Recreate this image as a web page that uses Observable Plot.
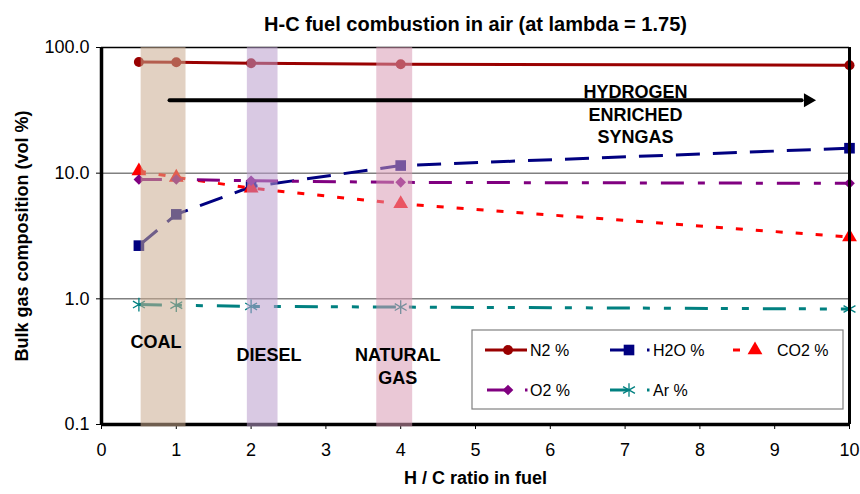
<!DOCTYPE html>
<html><head><meta charset="utf-8">
<script src="https://cdn.jsdelivr.net/npm/d3@7"></script>
<script src="https://cdn.jsdelivr.net/npm/@observablehq/plot@0.6"></script>
<style>body{margin:0;background:#fff;}</style>
</head><body><div id="chart"></div>
<script>
// ---- data ----
const hcRatio = [0.5, 1, 2, 4, 10];
const n2  = [76.7, 76.2, 75.0, 73.5, 72.3];
const h2o = [2.65, 4.7, 7.8, 11.5, 15.8];
const co2 = [10.4, 9.25, 7.6, 5.7, 3.1];
const o2  = [8.9, 8.9, 8.7, 8.45, 8.3];
const ar  = [0.9, 0.89, 0.87, 0.86, 0.83];
const seriesNames = ["N2 %", "H2O %", "CO2 %", "O2 %", "Ar %"];
const yTicks = [0.1, 1, 10, 100];
const xTicks = [0, 1, 2, 3, 4, 5, 6, 7, 8, 9, 10];
const bandNames = ["COAL", "DIESEL", "NATURAL GAS"];
const bandStart = [0.53, 1.95, 3.68];
const bandEnd = [1.13, 2.36, 4.16];
const labelText = ["COAL", "DIESEL", "NATURAL", "GAS"];
const labelX = [0.73, 2.24, 3.96, 3.96];
const labelY = [0.448, 0.359, 0.359, 0.235];
const arrowX = [0.91, 9.36];
const arrowY = [38, 38];
const arrowTipX = [9.445];
const arrowText = "HYDROGEN\nENRICHED\nSYNGAS";
const arrowTextX = 7.14;
const arrowTextY = 29.9;
const titleText = "H-C fuel combustion in air (at lambda = 1.75)";
const xLabel = "H / C ratio in fuel";
const yLabel = "Bulk gas composition (vol %)";

// ---- styles ----
const seriesValues = [n2, h2o, co2, o2, ar];
const styles = [
  {color: "#990000", dash: null,            symbol: "circle",   r: 5,   filled: true},
  {color: "#000080", dash: "24,13",         symbol: "square",   r: 6,   filled: true},
  {color: "#ff0000", dash: "7,13",          symbol: "triangle", r: 5.5, filled: true},
  {color: "#800080", dash: "23,14,7,14",    symbol: "diamond2", r: 4.8, filled: true},
  {color: "#008080", dash: "23,13,7,14,7,14", symbol: "asterisk", r: 6.5, filled: false}
];
const bandFill = ["#caab90", "#b99ccc", "#d99bb4"];

const rows = [];
seriesNames.forEach((s, i) => hcRatio.forEach((x, j) => rows.push({series: s, si: i, x, y: seriesValues[i][j]})));
const bands = bandNames.map((b, i) => ({name: b, x1: bandStart[i], x2: bandEnd[i], fill: bandFill[i]}));
const labels = labelText.map((t, i) => ({t, x: labelX[i], y: labelY[i]}));

const marks = [];
marks.push(Plot.ruleY([1, 10], {stroke: "#808080", strokeWidth: 1.5}));
marks.push(Plot.ruleY([100], {stroke: "#000", strokeWidth: 1.5}));
seriesNames.forEach((s, i) => {
  const st = styles[i];
  const data = rows.filter(d => d.si === i);
  marks.push(Plot.line(data, {x: "x", y: "y", stroke: st.color, strokeWidth: 3, strokeDasharray: st.dash, strokeLinecap: "butt", strokeLinejoin: "round"}));
});
seriesNames.forEach((s, i) => {
  const st = styles[i];
  const data = rows.filter(d => d.si === i);
  marks.push(Plot.dot(data, st.filled
    ? {x: "x", y: "y", symbol: () => st.symbol, r: st.r, fill: st.color, stroke: "none"}
    : {x: "x", y: "y", symbol: () => st.symbol, r: st.r, stroke: st.color, strokeWidth: 1.3, fill: "none"}));
});
marks.push(Plot.ruleX([0], {stroke: "#000", strokeWidth: 3.5}));
marks.push(Plot.ruleX([10], {stroke: "#000", strokeWidth: 3}));
marks.push(Plot.ruleY([0.1], {stroke: "#000", strokeWidth: 3.5}));
marks.push(Plot.rect(bands, {x1: "x1", x2: "x2", y1: 0.1, y2: 100, fill: "fill", fillOpacity: 0.55, insetBottom: -2.5}));
// arrow
marks.push(Plot.line(arrowX.map((x, i) => ({x, y: arrowY[i]})), {x: "x", y: "y", stroke: "#000", strokeWidth: 4}));
marks.push(Plot.dot(arrowTipX.map(x => ({x, y: arrowY[0]})), {x: "x", y: "y", symbol: "triangle", r: 5.2, fill: "#000", rotate: 90}));
marks.push(Plot.text([arrowText], {x: arrowTextX, y: arrowTextY, text: d => d, fontSize: 18, fontWeight: "bold", lineHeight: 1.25, fill: "#000"}));
marks.push(Plot.text(labels, {x: "x", y: "y", text: "t", fontSize: 18, fontWeight: "bold", fill: "#000"}));
// title & axis labels
marks.push(Plot.text([titleText], {frameAnchor: "top", dy: -23, textAnchor: "middle", lineAnchor: "middle", text: d => d, fontSize: 20, fontWeight: "bold", fill: "#000"}));
marks.push(Plot.text([xLabel], {frameAnchor: "bottom", dy: 54, textAnchor: "middle", lineAnchor: "middle", text: d => d, fontSize: 18, fontWeight: "bold", fill: "#000"}));
marks.push(Plot.text([yLabel], {frameAnchor: "left", dx: -79, rotate: -90, textAnchor: "middle", lineAnchor: "middle", text: d => d, fontSize: 18, fontWeight: "bold", fill: "#000"}));

const plot = Plot.plot({
  width: 860, height: 494,
  marginLeft: 101, marginRight: 11, marginTop: 47, marginBottom: 70,
  style: {fontFamily: "'Liberation Sans', Arial, sans-serif", fontSize: "18px", background: "#fff", color: "#000", overflow: "visible"},
  x: {domain: [0, 10], ticks: xTicks, tickFormat: d => String(d), tickSize: 5, tickPadding: 14, label: null},
  y: {type: "log", domain: [0.1, 100], ticks: yTicks, tickFormat: d => d.toFixed(1), tickSize: 5, tickPadding: 7, label: null},
  marks
});
document.getElementById("chart").appendChild(plot);

// ---- legend ----
const svg = d3.select(plot);
const lg = svg.append("g").attr("font-family", "'Liberation Sans', Arial, sans-serif").attr("font-size", 16).attr("text-anchor", "start");
lg.append("rect").attr("x", 472).attr("y", 330).attr("width", 371).attr("height", 79)
  .attr("fill", "#fff").attr("stroke", "#808080").attr("stroke-width", 1.2);
const items = [
  {i: 0, row: 350, l1: 485, l2: 527, mx: 508, dot: null, tx: 530},
  {i: 1, row: 350, l1: 610, l2: 628, mx: 629, dot: 647, tx: 653},
  {i: 2, row: 350, l1: 733, l2: 740, mx: 755, dot: null, tx: 777},
  {i: 3, row: 390, l1: 487, l2: 506, mx: 508, dot: 525, tx: 530},
  {i: 4, row: 390, l1: 610, l2: 628, mx: 629, dot: 647, tx: 653}
];
const symMap = {circle: d3.symbolCircle, square: d3.symbolSquare, triangle: d3.symbolTriangle, diamond2: d3.symbolDiamond2, asterisk: d3.symbolAsterisk};
items.forEach(it => {
  const st = styles[it.i];
  lg.append("line").attr("x1", it.l1).attr("x2", it.l2).attr("y1", it.row).attr("y2", it.row)
    .attr("stroke", st.color).attr("stroke-width", 3);
  const p = lg.append("path").attr("transform", `translate(${it.mx},${it.row})`)
    .attr("d", d3.symbol(symMap[st.symbol], Math.PI * st.r * st.r)());
  if (st.filled) p.attr("fill", st.color); else p.attr("fill", "none").attr("stroke", st.color).attr("stroke-width", 1.3);
  if (it.dot) lg.append("line").attr("x1", it.dot).attr("x2", it.dot + 2.5).attr("y1", it.row).attr("y2", it.row)
    .attr("stroke", st.color).attr("stroke-width", 3);
  lg.append("text").attr("x", it.tx).attr("y", it.row).attr("dy", "0.35em").attr("fill", "#000")
    .attr("text-anchor", "start").text(seriesNames[it.i]);
});
</script>
</body></html>
